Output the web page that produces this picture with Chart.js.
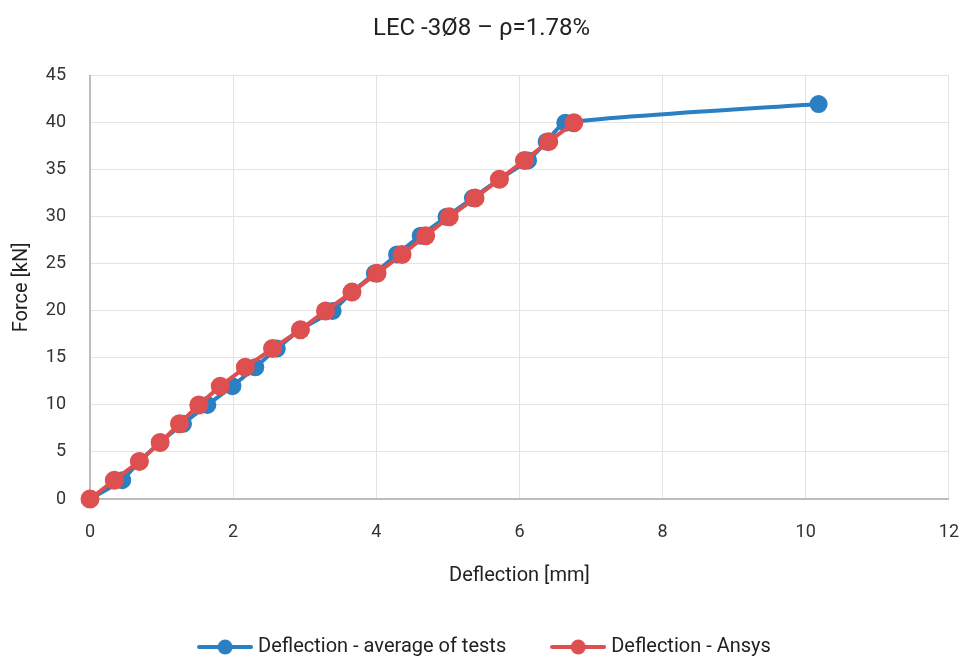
<!DOCTYPE html>
<html>
<head>
<meta charset="utf-8">
<script src="https://cdn.jsdelivr.net/npm/chart.js@4"></script>
<style>
html,body{margin:0;padding:0;background:#fff;}
#wrap{width:963px;height:659px;position:relative;}
</style>
</head>
<body>
<div id="wrap"><canvas id="c" width="963" height="659"></canvas></div>
<script>
const title = "LEC -3Ø8 – ρ=1.78%";
const xTitle = "Deflection [mm]";
const yTitle = "Force [kN]";
const seriesNames = ["Deflection - average of tests", "Deflection - Ansys"];
const testForce = [0,2,4,6,8,10,12,14,16,18,20,22,24,26,28,30,32,34,36,38,40,42];
const testDefl  = [0,0.45,0.69,0.98,1.30,1.64,1.99,2.31,2.61,2.94,3.39,3.66,3.98,4.29,4.62,4.98,5.35,5.72,6.12,6.38,6.64,10.18];
const ansysForce = [0,2,4,6,8,10,12,14,16,18,20,22,24,26,28,30,32,34,36,38,40];
const ansysDefl  = [0,0.34,0.69,0.98,1.25,1.52,1.82,2.17,2.55,2.94,3.29,3.66,4.01,4.36,4.69,5.02,5.38,5.72,6.07,6.41,6.76];

const BLUE = '#2a80c2', RED = '#de4f4f';
const FONT = 'Roboto';
const LEG_P = 49;

function legendIcon(color){
  const cv = document.createElement('canvas');
  cv.width = 56; cv.height = 18;
  const g = cv.getContext('2d');
  g.strokeStyle = color; g.lineWidth = 4; g.lineCap='round';
  g.beginPath(); g.moveTo(2,9); g.lineTo(54,9); g.stroke();
  g.fillStyle = color; g.beginPath(); g.arc(28,9,7.5,0,Math.PI*2); g.fill();
  return cv;
}

const testPts = testDefl.map((x,i)=>({x:x,y:testForce[i]}));
const ansysPts = ansysDefl.map((x,i)=>({x:x,y:ansysForce[i]}));

const legendShift = {
  id:'legendShift',
  afterLayout(chart){
    const lg = chart.legend;
    if(!lg) return;
    const shift = 647 - (lg.top + LEG_P + 10);
    lg.top += shift; lg.bottom += shift;
    lg.left += 5; lg.right += 5;
  }
};

new Chart(document.getElementById('c'), {
  type: 'scatter',
  data: {
    datasets: [
      {label: seriesNames[0], data: testPts, showLine:true, borderColor:BLUE, backgroundColor:BLUE,
       borderWidth:4, pointRadius:7, pointHoverRadius:7, tension:0.2, order:2, clip:false},
      {label: seriesNames[1], data: ansysPts, showLine:true, borderColor:RED, backgroundColor:RED,
       borderWidth:4, pointRadius:7.5, pointHoverRadius:7.5, tension:0, order:1, clip:false}
    ]
  },
  plugins:[legendShift],
  options: {
    responsive:false, animation:false,
    layout:{padding:{left:0,right:0,top:0,bottom:0}},
    plugins:{
      title:{display:true,text:title,color:'#222',font:{family:FONT,size:24,weight:'normal'},padding:{top:15,bottom:32}},
      legend:{position:'bottom',
        labels:{color:'#222',font:{family:FONT,size:20},padding:LEG_P,boxWidth:46,boxHeight:18,pointStyleWidth:46,
          usePointStyle:true,
          generateLabels:(chart)=>chart.data.datasets.map((d,i)=>({text:d.label,fillStyle:d.borderColor,strokeStyle:d.borderColor,lineWidth:0,
            pointStyle:legendIcon(d.borderColor),datasetIndex:i,hidden:false,fontColor:'#222'}))}},
      tooltip:{enabled:false}
    },
    scales:{
      x:{type:'linear',min:0,max:12,
        ticks:{stepSize:2,color:'#333',font:{family:FONT,size:18},padding:4},
        grid:{color:'#e3e3e3',lineWidth:1,drawTicks:true,tickLength:19,tickColor:'rgba(0,0,0,0)'},
        border:{color:'#bdbdbd',width:2},
        title:{display:true,text:xTitle,color:'#222',font:{family:FONT,size:20},padding:{top:4,bottom:-8}},
        afterFit:(s)=>{ s.height = 659 - 499 - s.chart.legend.height; }
      },
      y:{type:'linear',min:0,max:45,
        ticks:{stepSize:5,color:'#333',font:{family:FONT,size:18},padding:24},
        grid:{color:'#e3e3e3',lineWidth:1,drawTicks:false},
        border:{color:'#bdbdbd',width:2},
        title:{display:true,text:yTitle,color:'#222',font:{family:FONT,size:20},padding:{top:10,bottom:0}},
        afterFit:(s)=>{s.width=90;}
      }
    }
  }
});
</script>
</body>
</html>
